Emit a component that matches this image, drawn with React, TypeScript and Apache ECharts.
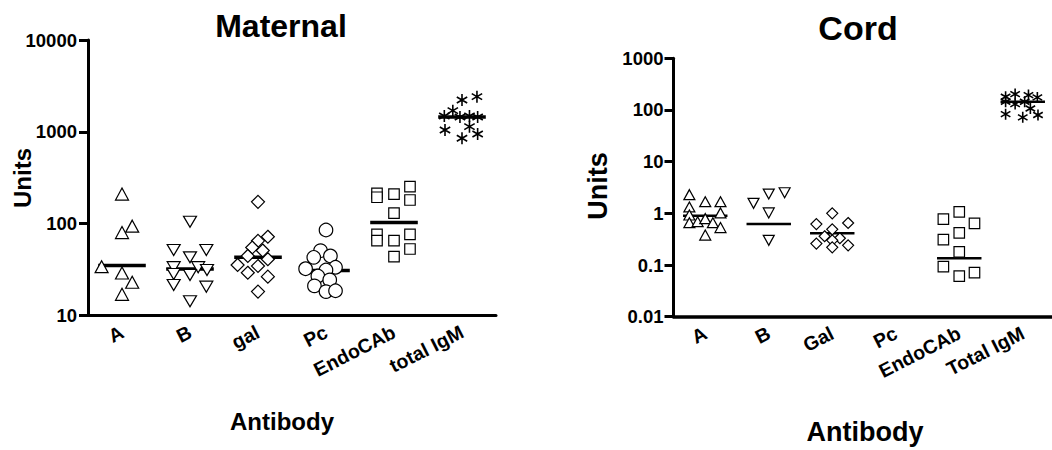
import { useEffect, useRef } from 'react';
import * as echarts from 'echarts';

const FONT = "'Liberation Sans', Arial, Helvetica, sans-serif";

// ---------- Maternal ----------
const maternalCategories = ['A', 'B', 'gal', 'Pc', 'EndoCAb', 'total IgM'];
const maternalTicks = [10, 100, 1000, 10000];
const matA = [210, 94, 80, 34, 29, 23, 17];
const matAJitter = [0, 0.15, 0, -0.3, 0, 0.15, 0];
const matB = [105, 51.7, 51.7, 43, 33.6, 28.3, 33.6, 31.3, 27.6, 21.5, 20.6, 14.3];
const matBJitter = [0, -0.24, 0.24, 0, -0.24, -0.24, 0.12, 0.25, 0, -0.24, 0.24, 0];
const matGal = [173, 72, 65, 55, 51, 44.5, 41, 35.5, 34.6, 29.2, 26.5, 18.2];
const matGalJitter = [0, 0.145, 0, -0.085, 0.07, -0.15, 0.145, -0.3, 0, -0.15, 0.145, 0];
const matPc = [85.3, 50.8, 43, 44.5, 32.3, 33.5, 31.3, 26.9, 24.4, 21, 18.2, 18.6];
const matPcJitter = [0, -0.08, -0.18, 0.065, -0.3, 0.14, 0, -0.12, 0.055, -0.17, 0, 0.14];
const matEndo = [214, 194, 210, 253, 181, 130, 76.6, 65.3, 65.3, 76.6, 53, 43.7];
const matEndoJitter = [-0.25, -0.25, 0, 0.235, 0.235, 0, -0.25, -0.25, 0, 0.235, 0.235, 0];
const matIgM = [2222, 2415, 1700, 1486, 1450, 1486, 1450, 1138, 1047, 850, 948];
const matIgMJitter = [0, 0.22, -0.135, -0.26, -0.03, 0.11, 0.23, 0.11, -0.25, 0, 0.23];
const matMedians = [35, 32, 43, 31, 103, 1450];

// ---------- Cord ----------
const cordCategories = ['A', 'B', 'Gal', 'Pc', 'EndoCAb', 'Total IgM'];
const cordTicks = [0.01, 0.1, 1, 10, 100, 1000];
const cordA = [2.3, 1.68, 1.68, 1.33, 0.93, 1.02, 0.66, 0.69, 0.79, 0.66, 0.53, 0.38];
const cordAJitter = [-0.25, 0, 0.24, -0.25, -0.25, 0.24, -0.25, -0.12, 0, 0.12, 0.24, 0];
const cordB = [1.56, 2.36, 2.5, 1.02, 0.3];
const cordBJitter = [-0.24, 0, 0.25, 0, 0];
const cordGal = [1.0, 0.62, 0.65, 0.49, 0.36, 0.33, 0.26, 0.3, 0.22, 0.24];
const cordGalJitter = [0, -0.25, 0.25, 0, -0.12, 0.12, -0.25, 0, 0, 0.25];
const cordPc: number[] = [];
const cordPcJitter: number[] = [];
const cordEndo = [1.07, 0.77, 0.64, 0.42, 0.31, 0.18, 0.093, 0.061, 0.071];
const cordEndoJitter = [0, -0.25, 0.24, 0, -0.25, 0, -0.25, 0, 0.24];
const cordIgM = [180, 203, 194, 175, 130, 144, 107, 83, 72, 80, 144];
const cordIgMJitter = [-0.27, -0.12, 0.09, 0.23, -0.12, 0.03, 0.12, -0.27, 0, 0.24, -0.27];
const cordMedians: (number | null)[] = [0.9, 0.62, 0.41, null, 0.135, 144];

const ASTERISK = 'path://M0,-6L0,6M-5.2,-3L5.2,3M-5.2,3L5.2,-3';
const MEDIAN_HALF = 0.35;

function points(vals: number[], jit: number[], cat: number) {
  return vals.map((v, i) => [cat + jit[i], v]);
}

function fmtTick(ticks: number[]) {
  return (v: number) => {
    const t = ticks.find((x) => Math.abs(Math.log10(x) - Math.log10(v)) < 1e-6);
    return t == null ? '' : String(t);
  };
}

function scatter(data: number[][], xAxisIndex: number, yAxisIndex: number, sym: any) {
  const isStar = sym.symbol === ASTERISK;
  return {
    type: 'scatter',
    xAxisIndex,
    yAxisIndex,
    data,
    symbol: sym.symbol,
    symbolSize: sym.size,
    symbolRotate: sym.rotate || 0,
    symbolKeepAspect: true,
    z: 5,
    itemStyle: {
      color: isStar ? 'rgba(0,0,0,0)' : '#fff',
      borderColor: '#000',
      borderWidth: isStar ? 1.6 : 1.2,
      opacity: 1,
    },
    emphasis: { disabled: true },
    silent: true,
  };
}

function medianSeries(medians: (number | null)[], xAxisIndex: number, yAxisIndex: number, width: number) {
  return {
    type: 'custom',
    xAxisIndex,
    yAxisIndex,
    z: 3,
    silent: true,
    data: medians.map((m, i) => [i, m]).filter((d) => d[1] != null),
    renderItem: (_params: any, api: any) => {
      const i = api.value(0);
      const m = api.value(1);
      const a = api.coord([i - MEDIAN_HALF, m]);
      const b = api.coord([i + MEDIAN_HALF, m]);
      return {
        type: 'line',
        shape: { x1: a[0], y1: a[1], x2: b[0], y2: b[1] },
        style: { stroke: '#000', lineWidth: width },
      };
    },
  };
}

function catAxis(gridIndex: number, data: string[], lineWidth: number) {
  return {
    type: 'category',
    gridIndex,
    data,
    boundaryGap: true,
    axisLine: { show: true, onZero: false, lineStyle: { color: '#000', width: lineWidth } },
    axisTick: { show: false },
    splitLine: { show: false },
    axisLabel: {
      interval: 0,
      rotate: 27,
      margin: 15,
      color: '#000',
      fontSize: 19.5,
      fontWeight: 'bold',
      fontFamily: FONT,
    },
  };
}

function valAxis(gridIndex: number) {
  return { type: 'value', gridIndex, min: -0.5, max: 5.5, show: false, axisLine: { onZero: false } };
}

function logAxis(gridIndex: number, min: number, max: number, ticks: number[], lineWidth: number, margin: number) {
  return {
    type: 'log',
    gridIndex,
    logBase: 10,
    min,
    max,
    axisLine: { show: true, onZero: false, lineStyle: { color: '#000', width: lineWidth } },
    axisTick: { show: true, length: 9, lineStyle: { color: '#000', width: lineWidth } },
    minorTick: { show: false },
    splitLine: { show: false },
    axisLabel: {
      formatter: fmtTick(ticks),
      margin,
      color: '#000',
      fontSize: 18.5,
      fontWeight: 'bold',
      fontFamily: FONT,
      showMinLabel: true,
      showMaxLabel: true,
    },
  };
}

const LEFT_SYMBOLS = [
  { symbol: 'triangle', size: [13, 12] },
  { symbol: 'triangle', size: [13, 11], rotate: 180 },
  { symbol: 'diamond', size: [13, 13] },
  { symbol: 'circle', size: 13.5 },
  { symbol: 'rect', size: [10.5, 10.5] },
  { symbol: ASTERISK, size: [12, 12] },
];
const RIGHT_SYMBOLS = [
  { symbol: 'triangle', size: [11, 10] },
  { symbol: 'triangle', size: [11, 10], rotate: 180 },
  { symbol: 'diamond', size: [11, 11] },
  { symbol: 'circle', size: 11 },
  { symbol: 'rect', size: [10.5, 10.5] },
  { symbol: ASTERISK, size: [11, 11] },
];

function textEl(text: string, x: number, y: number, size: number, rotation = 0) {
  return {
    type: 'text',
    x,
    y,
    rotation,
    style: {
      text,
      fill: '#000',
      fontSize: size,
      fontWeight: 'bold',
      fontFamily: FONT,
      align: 'center',
      verticalAlign: 'middle',
    },
  };
}

export default function App() {
  const ref = useRef<HTMLDivElement>(null);
  useEffect(() => {
    document.body.style.margin = '0';
    if (!ref.current) return;
    const chart = echarts.init(ref.current, undefined, { renderer: 'svg' });

    const matSets = [
      points(matA, matAJitter, 0),
      points(matB, matBJitter, 1),
      points(matGal, matGalJitter, 2),
      points(matPc, matPcJitter, 3),
      points(matEndo, matEndoJitter, 4),
      points(matIgM, matIgMJitter, 5),
    ];
    const cordSets = [
      points(cordA, cordAJitter, 0),
      points(cordB, cordBJitter, 1),
      points(cordGal, cordGalJitter, 2),
      points(cordPc, cordPcJitter, 3),
      points(cordEndo, cordEndoJitter, 4),
      points(cordIgM, cordIgMJitter, 5),
    ];

    const series: any[] = [
      medianSeries(matMedians, 1, 0, 3.5),
      medianSeries(cordMedians, 3, 1, 2.5),
      ...matSets.map((d, i) => scatter(d, 1, 0, LEFT_SYMBOLS[i])),
      ...cordSets.map((d, i) => scatter(d, 3, 1, RIGHT_SYMBOLS[i])),
    ];

    chart.setOption({
      animation: false,
      backgroundColor: '#fff',
      grid: [
        { left: 88, top: 40, width: 408, height: 275.5, containLabel: false, outerBoundsMode: 'none' },
        { left: 673.5, top: 58.3, width: 381, height: 258.4, containLabel: false, outerBoundsMode: 'none' },
      ],
      xAxis: [
        catAxis(0, maternalCategories, 3),
        valAxis(0),
        catAxis(1, cordCategories, 3.5),
        valAxis(1),
      ],
      yAxis: [
        logAxis(0, 10, 10000, maternalTicks, 3, 11),
        logAxis(1, 0.01, 1000, cordTicks, 3, 10),
      ],
      graphic: [
        textEl('Maternal', 281, 26, 32),
        textEl('Cord', 858, 28, 34),
        textEl('Units', 22, 178, 24, Math.PI / 2),
        textEl('Units', 598, 186, 27, Math.PI / 2),
        textEl('Antibody', 282, 421, 24),
        textEl('Antibody', 865, 432, 27),
      ],
      series,
    });
    return () => chart.dispose();
  }, []);
  return <div ref={ref} style={{ width: 1052, height: 450 }} />;
}
